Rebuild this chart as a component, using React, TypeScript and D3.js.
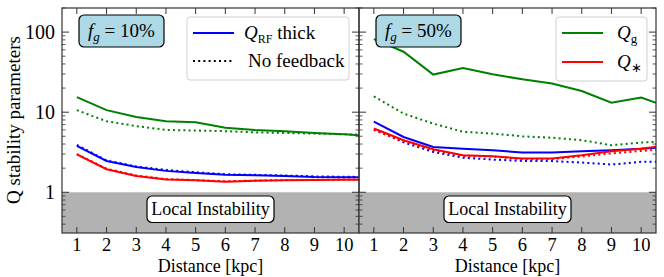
import React from "react";
import * as d3 from "d3";

const W = 664;
const H = 277;
const top = 8;
const bottom = 233;
const panelW = 297;
const panelX = [62, 359];
const fontName = "Liberation Serif";

const distances = [1, 2, 3, 4, 5, 6, 7, 8, 9, 10, 11];
const xTicks = [1, 2, 3, 4, 5, 6, 7, 8, 9, 10];
const yMajor = [1, 10, 100];
const fgLabels = ["10%", "50%"];

// f_g = 10%
const lowGas = [15.4, 10.6, 8.7, 7.7, 7.5, 6.4, 6.0, 5.8, 5.5, 5.3, 5.0];
const lowGasNoFb = [10.6, 7.7, 6.7, 6.0, 5.9, 5.8, 5.6, 5.5, 5.4, 5.3, 5.2];
const lowRF = [3.8, 2.46, 2.07, 1.85, 1.74, 1.66, 1.63, 1.6, 1.55, 1.54, 1.53];
const lowRFNoFb = [3.9, 2.5, 2.1, 1.9, 1.78, 1.68, 1.65, 1.62, 1.58, 1.56, 1.55];
const lowStar = [2.98, 1.94, 1.6, 1.44, 1.41, 1.35, 1.39, 1.41, 1.42, 1.43, 1.43];
const lowStarNoFb = [3.0, 1.97, 1.62, 1.46, 1.42, 1.37, 1.4, 1.42, 1.43, 1.44, 1.44];

// f_g = 50%
const highGas = [81.8, 56.9, 29.5, 35.5, 29.8, 25.7, 22.8, 18.4, 13.1, 15.2, 11.3];
const highGasNoFb = [15.8, 9.6, 7.2, 5.7, 5.4, 5.0, 4.8, 4.47, 3.87, 4.17, 4.4];
const highRF = [7.6, 4.9, 3.68, 3.5, 3.35, 3.13, 3.13, 3.25, 3.35, 3.5, 3.7];
const highRFNoFb = [6.1, 4.2, 3.19, 2.7, 2.56, 2.46, 2.45, 2.35, 2.22, 2.4, 2.4];
const highStar = [6.25, 4.47, 3.45, 2.9, 2.82, 2.64, 2.64, 2.9, 3.25, 3.5, 3.9];
const highStarNoFb = [6.0, 4.3, 3.35, 2.82, 2.8, 2.58, 2.6, 2.8, 3.05, 3.28, 3.5];

const panels = [
  [
    { v: lowGas, c: "green", dot: false },
    { v: lowGasNoFb, c: "green", dot: true },
    { v: lowRF, c: "blue", dot: false },
    { v: lowRFNoFb, c: "blue", dot: true },
    { v: lowStar, c: "red", dot: false },
    { v: lowStarNoFb, c: "red", dot: true },
  ],
  [
    { v: highGas, c: "green", dot: false },
    { v: highGasNoFb, c: "green", dot: true },
    { v: highRF, c: "blue", dot: false },
    { v: highRFNoFb, c: "blue", dot: true },
    { v: highStar, c: "red", dot: false },
    { v: highStarNoFb, c: "red", dot: true },
  ],
];

const y = d3.scaleLog().domain([0.31, 200]).range([bottom, top]);
const minorTicks: number[] = [];
[0.1, 1, 10, 100].forEach((d) => {
  for (let k = 2; k <= 9; k++) {
    const v = d * k;
    if (v >= 0.31 && v <= 200) minorTicks.push(v);
  }
});

const spine = "#333";

const T = (props: any) => (
  <text fontFamily={fontName} style={{ fontFamily: fontName }} {...props} />
);

const YTicks = ({ x, dir }: { x: number; dir: number }) => (
  <g stroke={spine} strokeWidth={1}>
    {yMajor.map((t) => (
      <line key={t} x1={x} x2={x + dir * 7} y1={y(t)} y2={y(t)} />
    ))}
    {minorTicks.map((t) => (
      <line key={"m" + t} x1={x} x2={x + dir * 3.5} y1={y(t)} y2={y(t)} strokeWidth={0.8} />
    ))}
  </g>
);

const Panel = ({ idx }: { idx: number }) => {
  const x0 = panelX[idx];
  const x = d3.scaleLinear().domain([0.5, 10.5]).range([x0, x0 + panelW]);
  const line = d3
    .line<number>()
    .x((_, i) => x(distances[i]))
    .y((d) => y(d));
  const cx = x0 + panelW / 2;
  return (
    <g>
      <defs>
        <clipPath id={"clip" + idx}>
          <rect x={x0} y={top} width={panelW} height={bottom - top} />
        </clipPath>
      </defs>
      <rect x={x0} y={y(1)} width={panelW} height={bottom - y(1)} fill="#b2b2b2" />
      <g clipPath={`url(#clip${idx})`}>
        {panels[idx].map((s, i) => (
          <path
            key={i}
            d={line(s.v) || ""}
            fill="none"
            stroke={s.c}
            strokeWidth={2}
            strokeDasharray={s.dot ? "2,3.2" : undefined}
          />
        ))}
      </g>
      <rect x={cx - 63.5} y={196} width={127} height={26.5} rx={5} fill="white" stroke="black" strokeWidth={1.2} />
      <T x={cx} y={215} textAnchor="middle" fontSize={18}>
        Local Instability
      </T>
      {xTicks.map((t) => (
        <g key={t} stroke={spine} strokeWidth={1}>
          <line x1={x(t)} x2={x(t)} y1={bottom} y2={bottom - 6} />
          <line x1={x(t)} x2={x(t)} y1={top} y2={top + 6} />
        </g>
      ))}
      {xTicks.map((t) => (
        <T key={"l" + t} x={x(t)} y={251} textAnchor="middle" fontSize={18.5}>
          {t}
        </T>
      ))}
      <T x={cx} y={272} textAnchor="middle" fontSize={18}>
        Distance [kpc]
      </T>
      <YTicks x={x0} dir={1} />
      <YTicks x={x0 + panelW} dir={-1} />
      <rect x={x0} y={top} width={panelW} height={bottom - top} fill="none" stroke={spine} strokeWidth={1.2} />
      <rect x={x0 + 17} y={15} width={85} height={32} rx={5} fill="lightblue" stroke="black" strokeWidth={1.2} />
      <T x={x0 + 59.5} y={37} textAnchor="middle" fontSize={19}>
        <tspan fontStyle="italic">f</tspan>
        <tspan fontStyle="italic" fontSize={13} dy={4}>g</tspan>
        <tspan dy={-4}>{" = " + fgLabels[idx]}</tspan>
      </T>
    </g>
  );
};

const LegendLine = ({ x, yy, color, dot }: { x: number; yy: number; color: string; dot?: boolean }) => (
  <line x1={x} x2={x + 41} y1={yy} y2={yy} stroke={color} strokeWidth={2} strokeDasharray={dot ? "2,3.2" : undefined} />
);

const App = () => (
  <svg width={W} height={H} fontFamily={fontName} style={{ position: "absolute", left: 0, top: 0, fontFamily: fontName }}>
    <rect width={W} height={H} fill="white" />
    <Panel idx={0} />
    <Panel idx={1} />
    {yMajor.map((t) => (
      <T key={t} x={55} y={y(t) + 7} textAnchor="end" fontSize={20}>
        {t}
      </T>
    ))}
    <T transform={`translate(20,120) rotate(-90)`} textAnchor="middle" fontSize={19}>
      Q stability parameters
    </T>
    {/* legend left */}
    <rect x={187} y={17} width={162} height={63} rx={3} fill="white" fillOpacity={0.85} stroke="#d0d0d0" />
    <LegendLine x={193} yy={33} color="blue" />
    <T x={244} y={39} fontSize={19}>
      <tspan fontStyle="italic">Q</tspan>
      <tspan fontSize={12} dy={4}>RF</tspan>
      <tspan dy={-4}> thick</tspan>
    </T>
    <LegendLine x={193} yy={61} color="black" dot />
    <T x={248} y={67} fontSize={19}>
      No feedback
    </T>
    {/* legend right */}
    <rect x={556} y={17} width={91} height={64} rx={3} fill="white" fillOpacity={0.85} stroke="#d0d0d0" />
    <LegendLine x={562} yy={33} color="green" />
    <T x={617} y={39} fontSize={19}>
      <tspan fontStyle="italic">Q</tspan>
      <tspan fontSize={13} dy={4}>g</tspan>
    </T>
    <LegendLine x={562} yy={62} color="red" />
    <T x={617} y={68} fontSize={19}>
      <tspan fontStyle="italic">Q</tspan>
      <tspan fontSize={13} dy={4}>∗</tspan>
    </T>
  </svg>
);

export default App;
